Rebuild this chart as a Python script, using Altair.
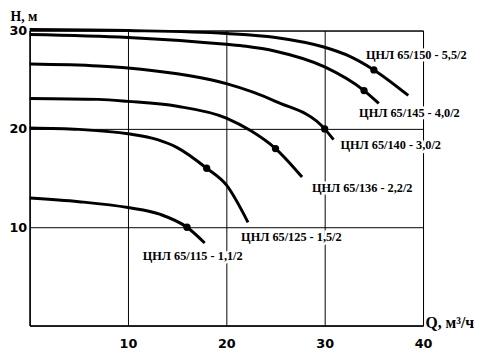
import altair as alt
import pandas as pd

names = ["ЦНЛ 65/150 - 5,5/2", "ЦНЛ 65/145 - 4,0/2", "ЦНЛ 65/140 - 3,0/2",
         "ЦНЛ 65/136 - 2,2/2", "ЦНЛ 65/125 - 1,5/2", "ЦНЛ 65/115 - 1,1/2"]

q1 = [0, 10, 20, 25, 30, 32.5, 35, 38.5]
h1 = [30.1, 30.0, 29.7, 29.3, 28.3, 27.4, 26.0, 23.4]
q2 = [0, 10, 20, 22, 25, 30, 34, 35.5]
h2 = [29.6, 29.3, 28.6, 28.4, 27.9, 26.3, 23.9, 22.6]
q3 = [0, 7, 10, 15, 20, 25, 30, 30.9]
h3 = [26.6, 26.4, 26.2, 25.6, 24.6, 22.8, 20.0, 18.9]
q4 = [0, 7, 10, 15, 20, 22.5, 25, 27.7]
h4 = [23.1, 23.0, 22.8, 22.3, 21.1, 19.8, 18.0, 15.1]
q5 = [0, 5, 10, 13, 15, 18, 20, 22.2]
h5 = [20.1, 19.95, 19.5, 18.9, 18.1, 16.0, 14.3, 10.5]
q6 = [0, 5, 10, 13.3, 16, 17.8]
h6 = [12.97, 12.6, 12.0, 11.3, 10.0, 8.4]

curve_q = [q1, q2, q3, q4, q5, q6]
curve_h = [h1, h2, h3, h4, h5, h6]

mark_q = [35, 34, 30, 25, 18, 16]
mark_h = [26.0, 23.9, 20.0, 18.0, 16.0, 10.0]

label_q = [34.2, 33.5, 31.6, 28.7, 21.5, 11.5]
label_h = [27.5, 21.6, 18.4, 14.0, 9.0, 7.1]

x_ticks = [10, 20, 30, 40]
y_ticks = [10, 20, 30]

rows = []
for n, qs, hs in zip(names, curve_q, curve_h):
    for i, (q, h) in enumerate(zip(qs, hs)):
        rows.append({"name": n, "Q": q, "H": h, "order": i})
curves = pd.DataFrame(rows)
points = pd.DataFrame({"name": names, "Q": mark_q, "H": mark_h})
labels = pd.DataFrame({"name": names, "Q": label_q, "H": label_h})

xs = alt.Scale(domain=[0, 40], nice=False, zero=False)
ys = alt.Scale(domain=[0, 30], nice=False, zero=False)

x_axis = alt.Axis(values=x_ticks, grid=True, gridColor="black", gridWidth=1, gridOpacity=1,
                  ticks=False, domainColor="black", domainWidth=1.5,
                  labelFont="DejaVu Sans", labelFontSize=13, labelFontWeight="bold",
                  labelColor="black", labelPadding=12, labelFlush=False,
                  title="Q, м³/ч", titleFont="Liberation Serif", titleFontSize=16,
                  titleFontWeight="bold", titleColor="black", titleX=402, titleY=-3,
                  titleAlign="left", titleBaseline="middle", titleAngle=0)
y_axis = alt.Axis(values=y_ticks, grid=True, gridColor="black", gridWidth=1, gridOpacity=1,
                  ticks=False, domainColor="black", domainWidth=1.5,
                  labelFont="DejaVu Sans", labelFontSize=13, labelFontWeight="bold",
                  labelColor="black", labelPadding=3, labelFlush=False,
                  title="H, м", titleFont="Liberation Serif", titleFontSize=14,
                  titleFontWeight="bold", titleColor="black", titleX=-20, titleY=-10,
                  titleAlign="left", titleBaseline="alphabetic", titleAngle=0)

base_x = alt.X("Q:Q", scale=xs, axis=x_axis)
base_y = alt.Y("H:Q", scale=ys, axis=y_axis)

lines = alt.Chart(curves).mark_line(color="black", strokeWidth=3, interpolate="monotone").encode(
    x=base_x, y=base_y, detail="name:N", order="order:Q")

dots = alt.Chart(points).mark_point(filled=True, color="black", size=55, opacity=1, shape="circle").encode(
    x=alt.X("Q:Q", scale=xs), y=alt.Y("H:Q", scale=ys))

halo = alt.Chart(labels).mark_text(align="left", baseline="middle", font="Liberation Serif",
                                   fontSize=12.5, fontWeight="bold", color="white",
                                   stroke="white", strokeWidth=5).encode(
    x=alt.X("Q:Q", scale=xs), y=alt.Y("H:Q", scale=ys), text="name:N")

texts = alt.Chart(labels).mark_text(align="left", baseline="middle", font="Liberation Serif",
                                    fontSize=12.5, fontWeight="bold", color="black").encode(
    x=alt.X("Q:Q", scale=xs), y=alt.Y("H:Q", scale=ys), text="name:N")

chart = alt.layer(lines, dots, halo, texts).properties(
    width=400, height=300,
    autosize=alt.AutoSizeParams(type="none"),
    padding={"left": 22, "top": 20, "right": 63, "bottom": 28},
    background="white",
).configure_view(stroke="black", strokeWidth=1)

chart.save("out.html", embed_options={"renderer": "svg", "actions": False})
